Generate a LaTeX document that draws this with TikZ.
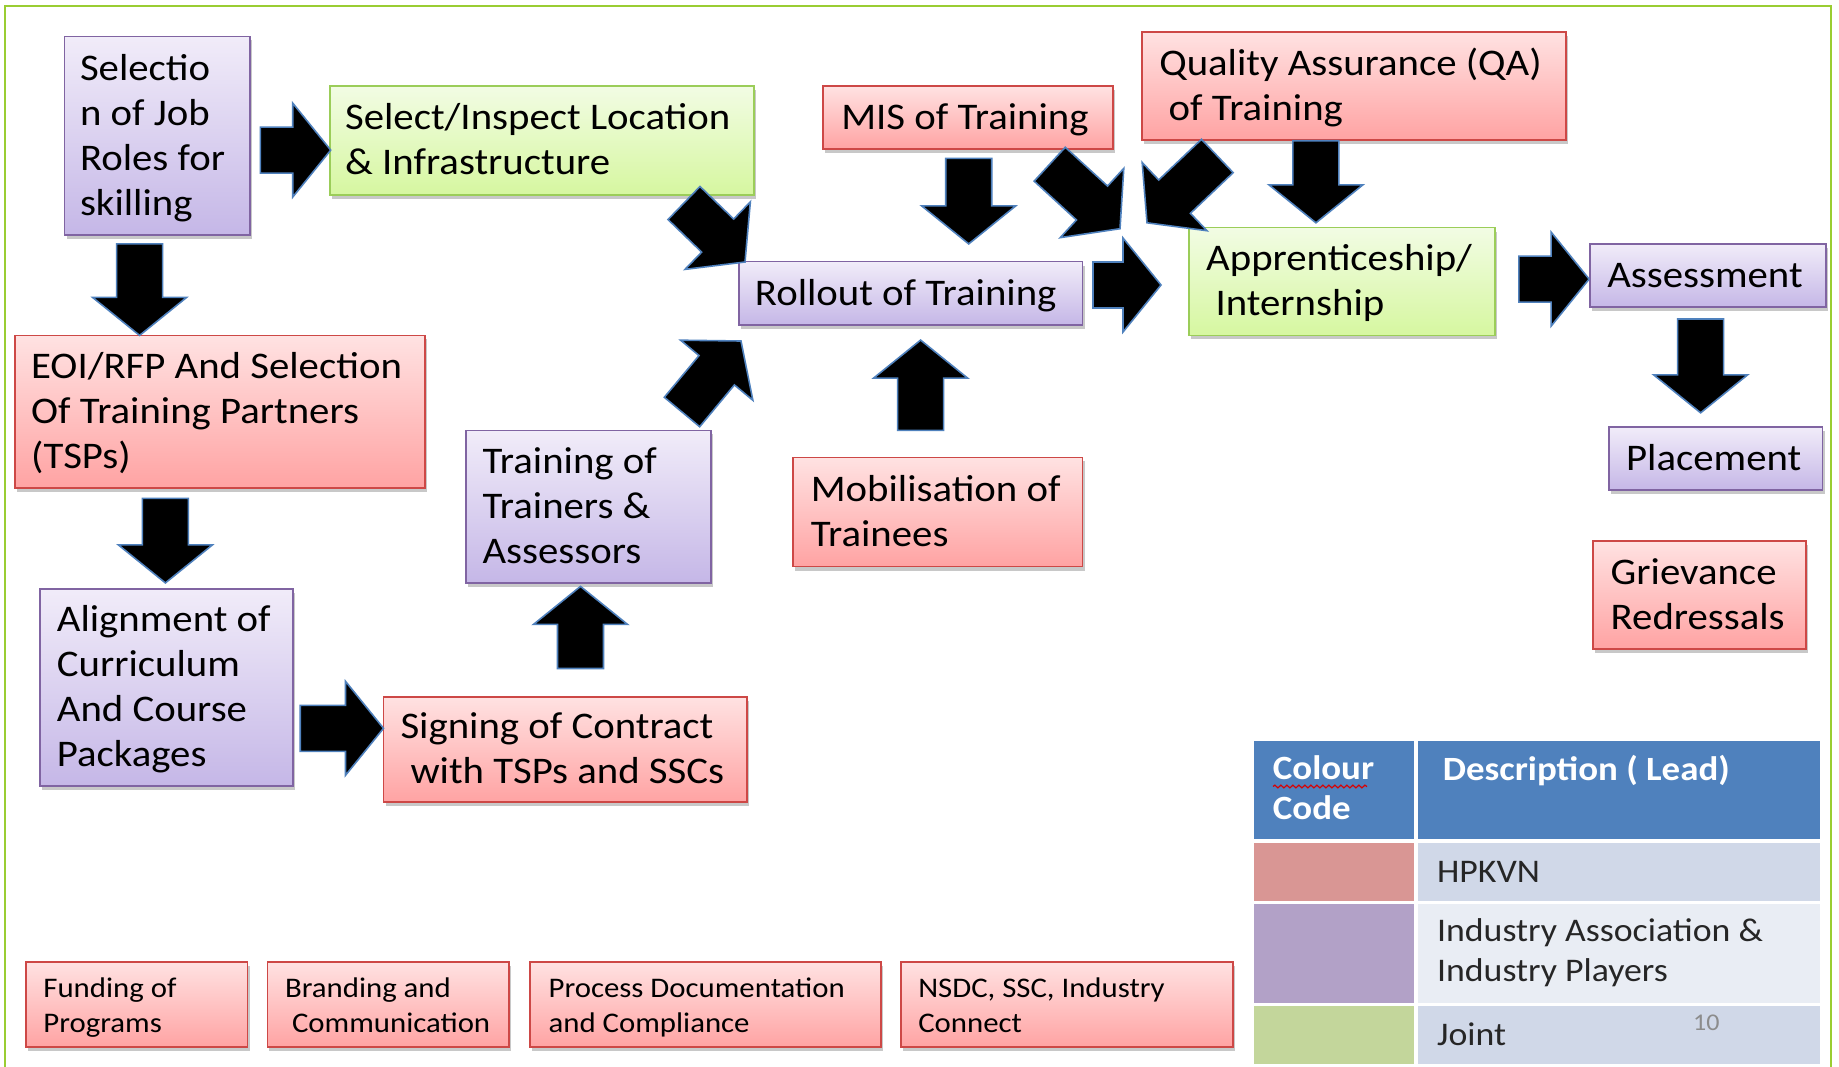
\documentclass[tikz,border=0pt]{standalone}
\usepackage{fontspec}
\setmainfont{Carlito}[FakeStretch=1.085]
\usetikzlibrary{calc,shadows,decorations.pathmorphing}

\definecolor{redtop}{RGB}{255,226,226}
\definecolor{redbot}{RGB}{255,163,163}
\definecolor{redline}{RGB}{205,72,70}
\definecolor{purtop}{RGB}{241,236,249}
\definecolor{purbot}{RGB}{197,183,231}
\definecolor{purline}{RGB}{128,100,162}
\definecolor{grntop}{RGB}{242,252,228}
\definecolor{grnbot}{RGB}{214,247,160}
\definecolor{grnline}{RGB}{155,205,89}
\definecolor{outerline}{RGB}{154,205,50}
\definecolor{glowblue}{RGB}{79,129,189}
\definecolor{hdrblue}{RGB}{79,129,189}
\definecolor{hpk}{RGB}{217,150,148}
\definecolor{ind}{RGB}{178,161,199}
\definecolor{jnt}{RGB}{195,214,155}
\definecolor{rowA}{RGB}{208,216,232}
\definecolor{rowB}{RGB}{233,237,244}
\definecolor{pnum}{RGB}{140,140,140}

\tikzset{
  boxshadow/.style={drop shadow={shadow xshift=1pt, shadow yshift=-2pt, opacity=0.3, fill=black!70}},
  bigtext/.style={font=\fontsize{18.8}{22.5}\selectfont},
  smalltext/.style={font=\fontsize{14.2}{17.5}\selectfont},
  redbox/.style={bigtext, draw=redline, line width=0.9pt, top color=redtop, bottom color=redbot, boxshadow},
  purplebox/.style={bigtext, draw=purline, line width=0.9pt, top color=purtop, bottom color=purbot, boxshadow},
  greenbox/.style={bigtext, draw=grnline, line width=0.9pt, top color=grntop, bottom color=grnbot, boxshadow},
  redsmall/.style={smalltext, draw=redline, line width=0.9pt, top color=redtop, bottom color=redbot, boxshadow},
  blockarrow/.style={fill=black, draw=glowblue, line width=0.8pt, line join=miter},
  tcell/.style={draw=none, inner sep=0pt},
  hdrtext/.style={font=\bfseries\fontsize{17}{20}\selectfont, text=white, inner sep=0pt},
  tabtext/.style={font=\fontsize{16.5}{20}\selectfont, text=black!85, inner sep=0pt},
  pagenum/.style={font=\fontsize{12}{14}\selectfont, text=pnum, inner sep=0pt},
  frame/.style={draw=outerline, line width=1pt},
}

\newcommand\mybox[8]{%
  \pgfmathsetmacro\myBW{(#5-#3)*0.5}%
  \pgfmathsetmacro\myBH{(#6-#4)*0.5}%
  \pgfmathsetmacro\myTW{(#5-#3-2*#7)*0.5}%
  \pgfmathsetmacro\myIN{#7*0.5}%
  \node[#2, minimum width=\myBW pt, minimum height=\myBH pt, inner xsep=\myIN pt, inner ysep=0pt]
    (#1) at ({(#3+#5)/2},{(#4+#6)/2})
    {\makebox[\myTW pt][l]{\raisebox{-1.5pt}[\height][\depth]{\begin{tabular}{@{}l@{}}#8\end{tabular}}}};}

\newcommand\mycell[6]{%
  \pgfmathsetmacro\myBW{(#5-#3)*0.5}%
  \pgfmathsetmacro\myBH{(#6-#4)*0.5}%
  \node[tcell, fill=#2, minimum width=\myBW pt, minimum height=\myBH pt]
    (#1) at ({(#3+#5)/2},{(#4+#6)/2}) {};}

\newcommand\barrow[2]{%
  \coordinate (barrowbase) at ($(#2)!19pt!(#1)$);
  \filldraw[blockarrow]
    ($(#1)!11.5pt!90:(#2)$) -- ($(barrowbase)!11.5pt!90:(#2)$) --
    ($(barrowbase)!23.5pt!90:(#2)$) -- (#2) --
    ($(barrowbase)!23.5pt!-90:(#2)$) -- ($(barrowbase)!11.5pt!-90:(#2)$) --
    ($(#1)!11.5pt!-90:(#2)$) -- cycle;}

\begin{document}
\begin{tikzpicture}[x=0.5pt, y=-0.5pt]
\useasboundingbox (0,0) rectangle (1839,1066);
\fill[white] (0,0) rectangle (1839,1066);
\draw[frame] (4.7,1070) -- (4.7,5.9) -- (1830.5,5.9) -- (1830.5,1070);

% boxes
\mybox{sel}{purplebox}{64.5}{36.4}{249.8}{234.6}{15.5}{Selectio\\n of Job\\Roles for\\skilling}
\mybox{loc}{greenbox}{329.6}{85.6}{754.1}{194.7}{15.5}{Select/Inspect Location\\\& Infrastructure}
\mybox{eoi}{redbox}{15.2}{335.4}{424.6}{487.9}{16}{EOI/RFP And Selection\\Of Training Partners\\(TSPs)}
\mybox{cur}{purplebox}{39.9}{588.7}{293.2}{785.8}{17}{Alignment of\\Curriculum\\And Course\\Packages}
\mybox{sign}{redbox}{383.5}{696.6}{747.1}{802.2}{17}{Signing of Contract\\\hspace*{5pt}with TSPs and SSCs}
\mybox{tot}{purplebox}{465.6}{430.4}{710.7}{582.9}{17}{Training of\\Trainers \&\\Assessors}
\mybox{roll}{purplebox}{738.9}{261.5}{1082.5}{324.9}{16}{Rollout of Training}
\mybox{mob}{redbox}{792.8}{457.4}{1082.5}{566.5}{18}{Mobilisation of\\Trainees}
\mybox{mis}{redbox}{823.3}{85.6}{1113}{148.9}{18}{MIS of Training}
\mybox{qa}{redbox}{1142.3}{31.7}{1565.7}{139.6}{17}{Quality Assurance (QA)\\\hspace*{4.7pt}of Training}
\mybox{app}{greenbox}{1189.2}{227.5}{1495.3}{335.4}{17}{Apprenticeship/\\\hspace*{4.7pt}Internship}
\mybox{ass}{purplebox}{1590.3}{243.9}{1826}{307.3}{17}{Assessment}
\mybox{plc}{purplebox}{1609.1}{426.9}{1822.5}{490.2}{17}{Placement}
\mybox{grv}{redbox}{1592.7}{540.7}{1806.1}{648.6}{18}{Grievance\\Redressals}

\mybox{fund}{redsmall}{25.8}{961.7}{247.5}{1047.3}{17.6}{Funding of\\Programs}
\mybox{brand}{redsmall}{267.4}{961.7}{509}{1047.3}{17.6}{Branding and\\\hspace*{3.5pt}Communication}
\mybox{proc}{redsmall}{530.1}{961.7}{880.8}{1047.3}{18.5}{Process Documentation\\and Compliance}
\mybox{nsdc}{redsmall}{900.7}{961.7}{1232.6}{1047.3}{17.6}{NSDC, SSC, Industry\\Connect}

% arrows
\coordinate (a1t) at (260.4,150.1);  \coordinate (a1h) at (330.7,150.1);
\coordinate (a2t) at (139.6,243.9);  \coordinate (a2h) at (139.6,335.4);
\coordinate (a3t) at (165.4,498.4);  \coordinate (a3h) at (165.4,582.9);
\coordinate (a4t) at (300.2,728.3);  \coordinate (a4h) at (383.5,728.3);
\coordinate (a5t) at (580.5,668.5);  \coordinate (a5h) at (580.5,586.4);
\coordinate (a6t) at (682,412);      \coordinate (a6h) at (741,341);
\coordinate (a7t) at (684,203);      \coordinate (a7h) at (745,262);
\coordinate (a8t) at (920.6,430.4);  \coordinate (a8h) at (920.6,340.1);
\coordinate (a9t) at (968.7,158.3);  \coordinate (a9h) at (968.7,243.9);
\coordinate (a10t) at (1049.7,164.2); \coordinate (a10h) at (1120,228.7);
\coordinate (a11t) at (1217.3,156);  \coordinate (a11h) at (1147,222.8);
\coordinate (a12t) at (1315.9,140.7); \coordinate (a12h) at (1315.9,222.8);
\coordinate (a13t) at (1093,285);    \coordinate (a13h) at (1161,285);
\coordinate (a14t) at (1518.8,279.1); \coordinate (a14h) at (1589.1,279.1);
\coordinate (a15t) at (1700.6,319);  \coordinate (a15h) at (1700.6,412.8);
\barrow{a1t}{a1h}
\barrow{a2t}{a2h}
\barrow{a3t}{a3h}
\barrow{a4t}{a4h}
\barrow{a5t}{a5h}
\barrow{a6t}{a6h}
\barrow{a7t}{a7h}
\barrow{a8t}{a8h}
\barrow{a9t}{a9h}
\barrow{a10t}{a10h}
\barrow{a11t}{a11h}
\barrow{a12t}{a12h}
\barrow{a13t}{a13h}
\barrow{a14t}{a14h}
\barrow{a15t}{a15h}

% legend table
\mycell{h1}{hdrblue}{1253.7}{741.2}{1413.6}{838.6}
\mycell{h2}{hdrblue}{1417.6}{741.2}{1820.2}{838.6}
\mycell{c1}{hpk}{1253.7}{843.1}{1413.6}{900.7}
\mycell{d1}{rowA}{1417.6}{843.1}{1820.2}{900.7}
\mycell{c2}{ind}{1253.7}{903.7}{1413.6}{1002.7}
\mycell{d2}{rowB}{1417.6}{903.7}{1820.2}{1002.7}
\mycell{c3}{jnt}{1253.7}{1006.3}{1413.6}{1063.7}
\mycell{d3}{rowA}{1417.6}{1006.3}{1820.2}{1063.7}

\node[hdrtext, anchor=west] (tcc) at (1272.5,791) {\begin{tabular}{@{}l@{}}Colour\\Code\end{tabular}};
\draw[red!85!black, line width=0.6pt, decorate, decoration={snake, amplitude=0.7pt, segment length=3pt}]
  (1273,786.5) -- (1367,786.5);
\node[hdrtext, anchor=west] (tdl) at (1442.5,771) {Description ( Lead)};
\node[tabtext, anchor=west] (thp) at (1436.7,871.5) {HPKVN};
\node[tabtext, anchor=west] (tind) at (1436.7,953.5) {\begin{tabular}{@{}l@{}}Industry Association \&\\Industry Players\end{tabular}};
\node[tabtext, anchor=west] (tj) at (1436.7,1034.5) {Joint};
\node[pagenum] (pn) at (1706.4,1022.7) {10};
\end{tikzpicture}
\end{document}
